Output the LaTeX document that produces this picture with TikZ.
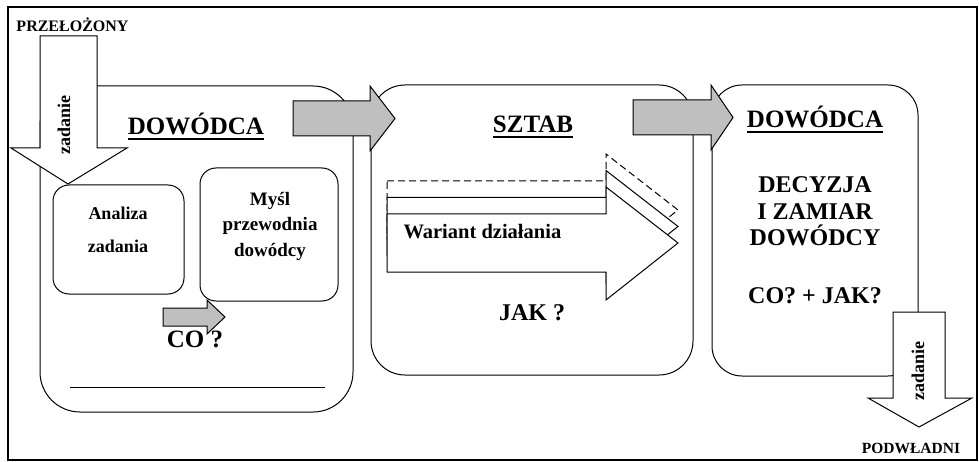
\documentclass[tikz,border=0pt]{standalone}
\usepackage{fontspec}
\setmainfont{Liberation Serif}
\usetikzlibrary{positioning}

\newsavebox{\ulsave}
\newcommand{\ulbox}[1]{\sbox{\ulsave}{#1}\rlap{\rule[-4.6pt]{\wd\ulsave}{1.6pt}}\usebox{\ulsave}}

\begin{document}
\begin{tikzpicture}[
    x=1pt, y=-1pt,
    line width=1pt,
    panel/.style={draw, rectangle, inner sep=0pt},
    grayarrow/.style={draw, fill=black!25},
    whitearrow/.style={draw, fill=white},
    ghost/.style={dash pattern=on 7pt off 4pt},
    lbl/.style={font=\bfseries\fontsize{#1}{#1}\selectfont, inner sep=0pt, anchor=base},
]
    \useasboundingbox (0,0) rectangle (979,462);
    % Frame
    \draw[line width=1.2pt] (8,7) rectangle (977,460);

    % Main panels
    \node[panel, rounded corners=40pt, minimum width=313pt, minimum height=326pt] (dow1) at (196.5,249) {};
    \node[panel, rounded corners=34pt, minimum width=322pt, minimum height=290pt] (sztab) at (532,230) {};
    \node[panel, rounded corners=30pt, minimum width=206pt, minimum height=291pt] (dow2) at (815,230.5) {};

    % Inner panels of the first commander box
    \node[panel, rounded corners=16pt, minimum width=131pt, minimum height=109pt] (analiza) at (118.5,239.5) {};
    \node[panel, rounded corners=16pt, minimum width=138pt, minimum height=133pt] (mysl) at (269,234.5) {};
    \draw (70,387) -- (325,387);

    % Variant arrows (stacked)
    \foreach \lift/\ls in {33/ghost, 16.5/solid, 0/solid}
        \draw[whitearrow, \ls, yshift=\lift] (387,214) -- (606,214) -- (606,187) -- (678,243) -- (606,300) -- (606,272) -- (387,272) -- cycle;

    % Grey flow arrows
    \draw[grayarrow] (293,101) -- (370,101) -- (370,86) -- (395,118.5) -- (370,151) -- (370,136) -- (293,136) -- cycle;
    \draw[grayarrow] (633,100) -- (711,100) -- (711,85) -- (733,117.5) -- (711,150) -- (711,135) -- (633,135) -- cycle;
    \draw[grayarrow] (163,308) -- (207,308) -- (207,300) -- (225,317) -- (207,334) -- (207,326) -- (163,326) -- cycle;

    % Task arrows
    \draw[whitearrow] (40,36) -- (97,36) -- (97,148) -- (127,148) -- (68,184) -- (11,148) -- (40,148) -- cycle;
    \draw[whitearrow] (893,312) -- (945,312) -- (945,398) -- (972,398) -- (919,427) -- (868,398) -- (893,398) -- cycle;

    % Labels
    \node[lbl=16] (boss) at (72.5,32) {PRZEŁOŻONY};
    \node[lbl=18, rotate=90, anchor=center] (task1) at (64,125) {zadanie};
    \node[lbl=25] (title1) at (196,135) {\ulbox{DOWÓDCA}};
    \node[lbl=18, font=\bfseries\fontsize{18}{33}\selectfont, align=center] (tanaliza) at (118,253) {Analiza\\zadania};
    \node[lbl=19, font=\bfseries\fontsize{19}{25.5}\selectfont, align=center] (tmysl) at (270,256) {Myśl\\przewodnia\\dowódcy};
    \node[lbl=25] (co) at (195,347) {CO ?};
    \node[lbl=25] (title2) at (533,133) {\ulbox{SZTAB}};
    \node[lbl=20.5, anchor=base west] (wariant) at (403,239) {Wariant działania};
    \node[lbl=24] (jak) at (532,320) {JAK ?};
    \node[lbl=25] (title3) at (815,128) {\ulbox{DOWÓDCA}};
    \node[lbl=24, font=\bfseries\fontsize{24}{26.5}\selectfont, align=center] (decyzja) at (815,246) {DECYZJA\\I ZAMIAR\\DOWÓDCY};
    \node[lbl=24] (cojak) at (815,303) {CO? + JAK?};
    \node[lbl=18, rotate=90, anchor=center] (task2) at (918,371) {zadanie};
    \node[lbl=15.5] (sub) at (911,453) {PODWŁADNI};
\end{tikzpicture}
\end{document}
